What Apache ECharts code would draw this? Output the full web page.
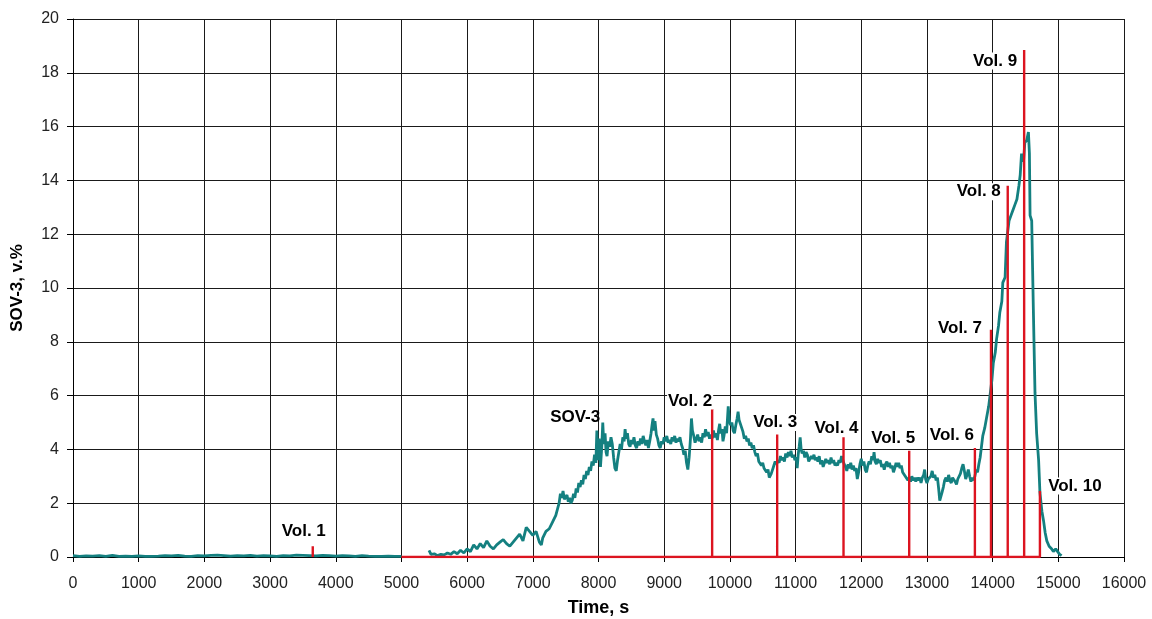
<!DOCTYPE html>
<html>
<head>
<meta charset="utf-8">
<script src="https://cdn.jsdelivr.net/npm/echarts@6/dist/echarts.min.js"></script>
<style>
  html, body { margin: 0; padding: 0; background: #ffffff; }
  #chart { width: 1152px; height: 619px; }
</style>
</head>
<body>
<div id="chart"></div>
<script>
// SOV-3 concentration readings, [time s, v.%]
const sov3Baseline = [
  [0,0.05],[100,0.02],[200,0.04],[300,0.03],[400,0.05],[500,0.02],[600,0.06],[700,0.02],[800,0.03],[900,0.02],
  [1000,0.04],[1100,0.02],[1200,0.02],[1300,0.03],[1400,0.05],[1500,0.04],[1600,0.06],[1700,0.03],[1800,0.02],[1900,0.05],
  [2000,0.04],[2100,0.06],[2200,0.07],[2300,0.05],[2400,0.03],[2500,0.05],[2600,0.04],[2700,0.06],[2800,0.03],[2900,0.05],
  [3000,0.04],[3100,0.02],[3200,0.05],[3300,0.04],[3400,0.07],[3500,0.06],[3600,0.05],[3700,0.04],[3800,0.06],[3900,0.05],
  [4000,0.03],[4100,0.05],[4200,0.04],[4300,0.02],[4400,0.05],[4500,0.03],[4600,0.02],[4700,0.02],[4800,0.03],[4900,0.02],
  [5000,0.02]
];
const sov3Rise = [
  [5420,0.25],[5450,0.1],[5500,0.12],[5550,0.05],[5600,0.1],[5650,0.08],[5700,0.15],[5750,0.1],[5800,0.2],[5850,0.12],
  [5900,0.25],[5950,0.15],[6000,0.3],[6050,0.2],[6100,0.45],[6150,0.3],[6200,0.5],[6250,0.35],[6300,0.6],[6350,0.4],
  [6400,0.3],[6450,0.45],[6500,0.55],[6550,0.65],[6600,0.5],[6650,0.4],[6700,0.55],[6750,0.7],[6800,0.85],[6850,0.6],
  [6900,1.1],[6950,0.95],[7000,0.8],[7050,0.95],[7100,0.55],[7130,0.45],[7150,0.7],[7200,0.95],[7250,1.05],[7300,1.3],
  [7350,1.55]
];
const sov3Plateau = [
  [7400,2.0],[7420,2.35],[7440,2.2],[7460,2.45],[7480,2.15],[7500,2.1],[7520,2.3],[7540,2.05],[7560,2.2],[7580,2.0],
  [7600,2.1],[7620,2.35],[7640,2.2],[7660,2.55],[7680,2.4],[7700,2.75],[7720,2.6],[7740,2.85],[7760,2.7],[7780,3.05],
  [7800,2.9],[7820,3.2],[7840,3.05],[7860,3.35],[7880,3.2],[7900,3.55],[7920,3.4],[7940,3.8],[7960,3.5],[7975,4.7],
  [7990,3.6],[8010,4.4],[8030,3.35],[8050,4.1],[8065,5.0],[8080,4.2],[8100,4.6],[8115,3.9],[8130,3.75],[8150,4.3],
  [8170,4.1],[8190,4.45],[8210,4.2],[8230,3.7],[8250,3.3],[8270,3.2],[8290,3.6],[8310,3.9],[8330,4.2],[8350,4.0],
  [8370,4.45],[8390,4.3],[8405,4.75],[8420,4.4],[8440,4.6],[8460,4.2],[8480,4.1],[8500,4.35],[8520,4.2],[8540,4.45],
  [8560,4.15],[8580,4.05],[8600,4.3],[8620,4.15],[8640,4.4],[8660,4.2],[8680,4.5],[8700,4.3],[8720,4.15],[8740,4.35],
  [8760,4.05],[8780,4.3],[8800,4.6],[8815,4.9],[8830,5.15],[8845,4.7],[8860,5.05],[8880,4.55],[8900,4.4],[8920,4.15],
  [8940,4.05],[8960,4.3],[8980,4.2],[9000,4.45],[9020,4.3],[9040,4.5],[9060,4.25],[9080,4.35],[9100,4.2],[9120,4.45],
  [9140,4.3],[9160,4.5],[9180,4.25],[9200,4.4],[9220,4.3],[9240,4.45],[9260,4.2],[9280,4.05],[9300,3.8],[9320,3.95],
  [9340,3.5],[9360,3.25],[9380,3.7],[9400,4.4],[9415,5.15],[9430,4.7],[9450,4.5],[9470,4.25],[9490,4.4],[9510,4.55],
  [9530,4.3],[9550,4.45],[9570,4.25],[9590,4.6],[9610,4.45],[9630,4.75],[9650,4.5],[9670,4.65],[9690,4.4],[9710,4.55],
  [9730,4.4],[9750,4.7],[9770,4.45],[9790,4.6],[9810,4.35],[9830,4.75],[9845,4.95],[9860,4.6],[9880,4.75],[9895,4.3],
  [9910,4.5],[9930,4.85],[9950,4.6],[9965,5.2],[9975,5.6],[9990,5.1],[10010,4.9],[10030,5.0],[10050,4.7],[10070,4.6],
  [10090,4.9],[10110,5.15],[10125,5.4],[10140,5.1],[10160,4.95],[10180,4.8],[10200,4.65],[10220,4.4],[10240,4.5],[10260,4.3],
  [10280,4.4],[10300,4.15],[10320,4.25],[10340,4.05],[10360,4.15],[10380,3.9],[10400,3.75],[10420,3.85],[10440,3.55],[10460,3.6],
  [10480,3.4],[10500,3.5],[10520,3.3],[10540,3.35],[10560,3.15],[10580,3.25],[10600,2.95],[10615,2.9],[10630,3.1],[10650,3.25],
  [10670,3.4],[10690,3.55],[10710,3.45],[10730,3.6],[10750,3.5],[10770,3.75],[10790,3.6],[10810,3.7],[10830,3.55],[10850,3.85],
  [10870,3.7],[10890,3.9],[10910,3.75],[10930,3.95],[10950,3.7],[10970,3.8],[10990,3.6],[11010,3.7],[11025,3.3],[11040,3.8],
  [11055,4.1],[11070,4.45],[11085,4.0],[11100,3.85],[11120,3.95],[11140,3.7],[11160,3.9],[11180,3.8],[11200,3.55],[11220,3.5],
  [11240,3.75],[11260,3.65],[11280,3.8],[11300,3.6],[11320,3.7],[11340,3.55],[11360,3.75],[11380,3.45],[11400,3.6],[11420,3.35],
  [11440,3.5],[11460,3.65],[11480,3.5],[11500,3.6],[11520,3.45],[11540,3.7],[11560,3.5],[11580,3.6],[11600,3.4],[11620,3.5],
  [11640,3.4],[11660,3.6],[11680,3.5],[11700,3.75],[11720,3.6],[11740,3.45],[11760,3.35],[11780,3.2],[11800,3.45],[11820,3.3],
  [11840,3.5],[11860,3.25],[11880,3.4],[11900,3.2],[11920,3.3],[11940,2.9],[11960,3.15],[11980,3.45],[12000,3.65],[12020,3.4],
  [12040,3.55],[12060,3.25],[12080,3.15],[12100,3.4],[12120,3.55],[12140,3.45],[12160,3.75],[12180,3.6],[12195,3.9],[12210,3.55],
  [12230,3.45],[12250,3.65],[12270,3.5],[12290,3.6],[12310,3.35],[12330,3.45],[12350,3.25],[12370,3.45],[12390,3.55],[12410,3.35],
  [12430,3.5],[12450,3.3],[12470,3.4],[12490,3.15],[12510,3.3],[12530,3.5],[12550,3.35],[12570,3.5],[12590,3.3],[12610,3.4],
  [12630,3.15],[12650,3.2],[12670,3.0],[12690,3.05],[12710,2.85],[12730,2.95],[12750,2.8],[12770,3.0],[12790,2.85],[12810,2.95],
  [12830,2.8],[12850,2.95],[12870,2.85],[12890,2.95],[12910,2.75],[12930,2.95],[12950,3.05],[12965,3.25],[12980,2.9],[13000,2.75],
  [13020,2.9],[13040,2.85],[13060,3.0],[13080,3.2],[13100,2.95],[13120,3.05],[13140,2.85],[13160,2.95],[13180,2.5],[13195,2.1],
  [13210,2.15],[13230,2.4],[13250,2.6],[13270,2.85],[13290,2.95],[13310,2.8],[13330,3.05],[13350,2.85],[13370,2.75],[13390,2.95],
  [13410,3.0],[13430,2.8],[13450,2.7],[13470,2.9],[13490,2.85],[13510,3.1],[13530,3.3],[13550,3.45],[13570,3.2],[13590,2.9],
  [13610,3.05],[13630,3.25],[13650,3.0],[13670,2.8],[13690,2.95],[13710,2.85],[13730,3.0],[13750,3.25],[13770,3.15],[13790,3.45],
  [13810,3.7],[13830,4.1]
];
const sov3Peak = [
  [13850,4.5],[13880,4.8],[13910,5.2],[13940,5.6],[13960,6.0],[13990,6.6],[14010,7.2],[14040,7.6],[14060,8.1],[14090,8.6],
  [14110,9.1],[14140,9.5],[14155,10.2],[14190,10.4],[14210,11.7],[14250,12.5],[14280,12.7],[14310,12.9],[14340,13.1],[14370,13.3],
  [14400,13.8],[14420,14.2],[14440,15.0],[14470,14.7],[14490,15.4],[14520,15.5],[14545,15.8],[14560,15.0],[14570,12.7],[14595,12.5],
  [14620,9.2],[14645,6.1],[14670,4.6],[14700,3.6],[14720,2.4],[14750,1.7],[14775,1.35],[14800,0.9],[14825,0.6],[14860,0.4],
  [14900,0.3],[14925,0.2],[14960,0.3],[14990,0.2],[15020,0.1],[15050,0.05]
];

// Volume release events: names, times (s) and pulse heights (v.%)
const volNames  = ['Vol. 1', 'Vol. 2', 'Vol. 3', 'Vol. 4', 'Vol. 5', 'Vol. 6', 'Vol. 7', 'Vol. 8', 'Vol. 9', 'Vol. 10'];
const volTimes  = [3650, 9730, 10720, 11730, 12730, 13730, 13975, 14230, 14480, 14720];
const volHeight = [0.4, 5.5, 4.55, 4.45, 3.95, 4.05, 8.45, 13.8, 18.85, 2.45];
const eventTrackStart = 5000;

// Label placement around each pulse top, in pixels [dx, dy]
const volLabelOffset = [[-9,-15],[-22,-8],[-2,-12],[-7,-9],[-16,-12],[-23,-13],[-31,-1],[-29,6],[-29,11],[35,-5]];

const FONT = 'Liberation Sans, Arial, sans-serif';

// Event trace: Vol. 1 pulse alone, then a continuous zero track with pulses
const eventTrace = [];
eventTrace.push([volTimes[0], 0], [volTimes[0], volHeight[0]], [volTimes[0], 0], [volTimes[0] + 300, '-']);
eventTrace.push([eventTrackStart, 0]);
for (let i = 1; i < volTimes.length; i++) {
  eventTrace.push([volTimes[i], 0], [volTimes[i], volHeight[i]], [volTimes[i], 0]);
}

const sov3Trace = sov3Baseline.concat([[5200, '-']], sov3Rise, sov3Plateau, sov3Peak);

const labelStyle = {
  show: true,
  position: 'inside',
  color: '#000',
  fontFamily: FONT,
  fontWeight: 'bold',
  fontSize: 17,
  backgroundColor: '#fff',
  padding: [0, 1]
};

const chart = echarts.init(document.getElementById('chart'), null, { renderer: 'canvas' });
chart.setOption({
  animation: false,
  backgroundColor: '#ffffff',
  grid: { left: 73, right: 28, top: 19, bottom: 62, containLabel: false, outerBoundsMode: 'none' },
  xAxis: {
    type: 'value', min: 0, max: 16000, interval: 1000,
    name: 'Time, s', nameLocation: 'middle', nameGap: 42,
    nameTextStyle: { fontFamily: FONT, fontWeight: 'bold', fontSize: 18, color: '#000' },
    axisLine: { show: true, onZero: false, lineStyle: { color: '#000', width: 1 } },
    axisTick: { show: true, length: 5, lineStyle: { color: '#000' } },
    axisLabel: { margin: 19, fontFamily: FONT, fontSize: 16, color: '#222', formatter: v => String(v) },
    splitLine: { show: true, lineStyle: { color: '#1a1a1a', width: 1 } }
  },
  yAxis: {
    type: 'value', min: 0, max: 20, interval: 2,
    name: 'SOV-3, v.%', nameLocation: 'middle', nameGap: 47, nameRotate: 90,
    nameTextStyle: { fontFamily: FONT, fontWeight: 'bold', fontSize: 17, color: '#000' },
    axisLine: { show: true, lineStyle: { color: '#000', width: 1 } },
    axisTick: { show: true, length: 6, lineStyle: { color: '#000' } },
    axisLabel: { margin: 14, fontFamily: FONT, fontSize: 16, color: '#222' },
    splitLine: { show: true, lineStyle: { color: '#1a1a1a', width: 1 } }
  },
  series: [
    {
      name: 'SOV-3',
      type: 'line',
      data: sov3Trace,
      showSymbol: false,
      connectNulls: false,
      lineStyle: { color: '#148080', width: 2.8 },
      itemStyle: { color: '#148080' },
      z: 2,
      markPoint: {
        symbol: 'circle', symbolSize: 0,
        data: [{ coord: [7645, 5.2], label: Object.assign({}, labelStyle, { formatter: 'SOV-3', backgroundColor: 'transparent' }) }]
      }
    },
    {
      name: 'Volumes',
      type: 'line',
      data: eventTrace,
      showSymbol: false,
      connectNulls: false,
      lineStyle: { color: '#dc1420', width: 2.4 },
      itemStyle: { color: '#dc1420' },
      z: 3,
      markPoint: {
        symbol: 'circle', symbolSize: 0,
        data: volNames.map((n, i) => ({
          coord: [volTimes[i], volHeight[i]],
          label: Object.assign({}, labelStyle, { formatter: n, offset: volLabelOffset[i] })
        }))
      }
    }
  ]
});
</script>
</body>
</html>
